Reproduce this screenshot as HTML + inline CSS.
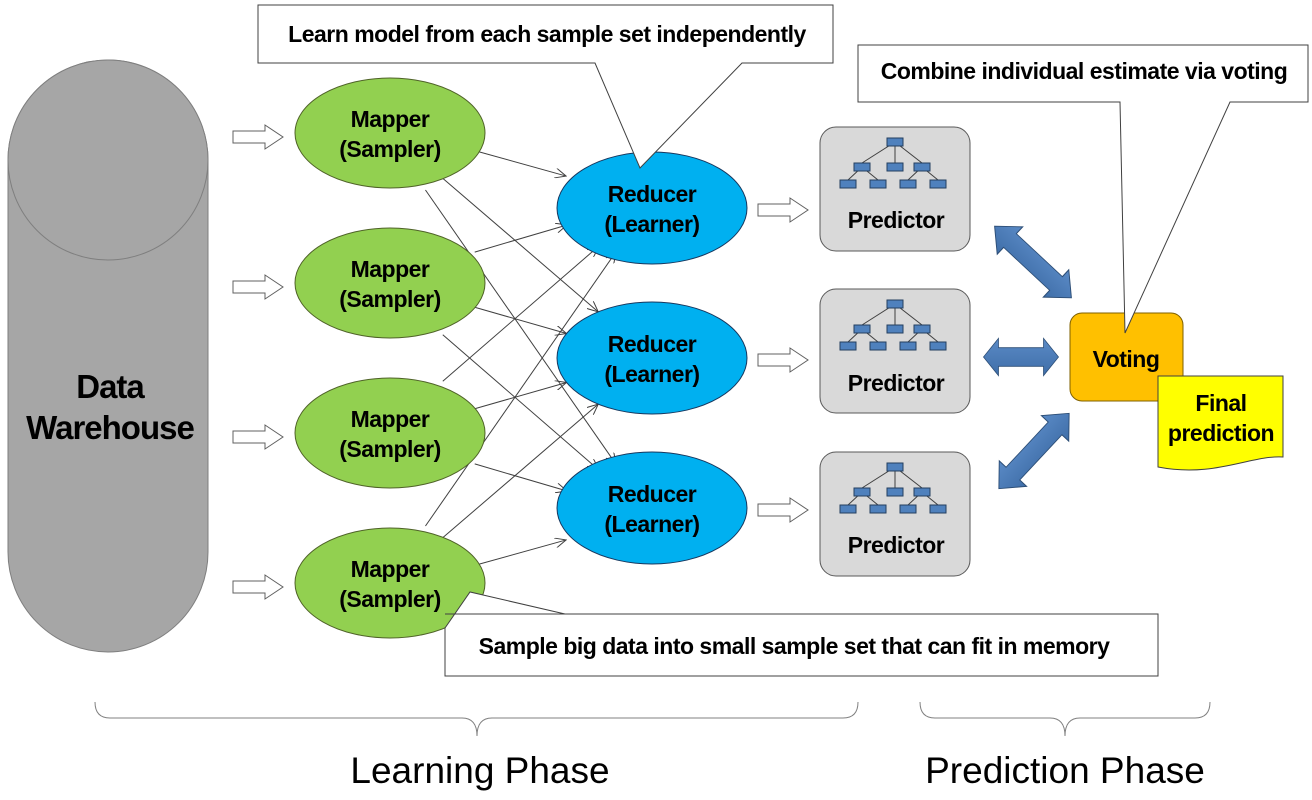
<!DOCTYPE html>
<html><head><style>body{margin:0;background:#fff}svg{display:block}text{font-family:"Liberation Sans",Arial,sans-serif}</style></head>
<body>
<svg id="s" width="1312" height="800" viewBox="0 0 1312 800" xmlns="http://www.w3.org/2000/svg">
<defs>
<marker id="ah" markerWidth="12" markerHeight="10" refX="11" refY="5" orient="auto" markerUnits="userSpaceOnUse"><path d="M0,0 L11,5 L0,10" fill="none" stroke="#404040" stroke-width="1"/></marker>
<linearGradient id="bg" x1="0" y1="0" x2="0" y2="1"><stop offset="0" stop-color="#5a8ac6"/><stop offset="1" stop-color="#3f6ea8"/></linearGradient>
<g id="tree">
<g stroke="#404040" stroke-width="1"><line x1="0" y1="4" x2="-33" y2="25"/><line x1="0" y1="4" x2="0" y2="25"/><line x1="0" y1="4" x2="27" y2="25"/>
<line x1="-33" y1="29" x2="-47" y2="42"/><line x1="-33" y1="29" x2="-17" y2="42"/><line x1="27" y1="29" x2="13" y2="42"/><line x1="27" y1="29" x2="43" y2="42"/></g>
<g fill="#4f81bd" stroke="#243f60" stroke-width="1"><rect x="-8" y="0" width="16" height="8"/><rect x="-41" y="25" width="16" height="8"/><rect x="-8" y="25" width="16" height="8"/><rect x="19" y="25" width="16" height="8"/>
<rect x="-55" y="42" width="16" height="8"/><rect x="-25" y="42" width="16" height="8"/><rect x="5" y="42" width="16" height="8"/><rect x="35" y="42" width="16" height="8"/></g>
</g>
<path id="harrow" d="M0,-6 H32 V-12 L50,0 L32,12 V6 H0 Z" fill="#fff" stroke="#606060" stroke-width="1"/>
<path id="darrow" d="M-50,0 L-30,-22 V-11 H30 V-22 L50,0 L30,22 V11 H-30 V22 Z" fill="url(#bg)" stroke="#2c4d75" stroke-width="1"/>
</defs>
<path d="M8,160 A100,100 0 0 1 208,160 V552 A100,100 0 0 1 8,552 Z" fill="#a6a6a6" stroke="#7f7f7f"/>
<ellipse cx="108" cy="160" rx="100" ry="100" fill="#a6a6a6" stroke="#7f7f7f"/>
<text x="110" y="398" font-size="33" font-weight="bold" text-anchor="middle" letter-spacing="-1">Data</text>
<text x="110" y="439" font-size="33" font-weight="bold" text-anchor="middle" letter-spacing="-1">Warehouse</text>
<g id="lines"></g>
<g id="nodes"></g>
<g fill="#d9d9d9" stroke="#595959" stroke-width="1">
<rect x="820" y="127" width="150" height="124" rx="16"/><rect x="820" y="289" width="150" height="124" rx="16"/><rect x="820" y="452" width="150" height="124" rx="16"/></g>
<use href="#tree" x="895" y="138"/><use href="#tree" x="895" y="300"/><use href="#tree" x="895" y="463"/>
<g font-size="23" font-weight="bold" text-anchor="middle" letter-spacing="-0.5"><text x="896" y="228">Predictor</text><text x="896" y="391">Predictor</text><text x="896" y="553">Predictor</text></g>
<use href="#darrow" transform="translate(1033,262) rotate(43) scale(1.05,0.85)"/>
<use href="#darrow" transform="translate(1021,357) scale(0.75,0.85)"/>
<use href="#darrow" transform="translate(1034,451) rotate(-47) scale(1.03,0.85)"/>
<rect x="1070" y="313" width="113" height="88" rx="12" fill="#ffc000" stroke="#7f6000"/>
<text x="1126" y="367" font-size="23" font-weight="bold" text-anchor="middle" letter-spacing="-0.5">Voting</text>
<path d="M1158,376 H1283 V457 C1250,455 1215,478 1158,467 Z" fill="#ffff00" stroke="#404040"/>
<text x="1221" y="411" font-size="23" font-weight="bold" text-anchor="middle" letter-spacing="-0.5">Final</text>
<text x="1221" y="441" font-size="23" font-weight="bold" text-anchor="middle" letter-spacing="-0.5">prediction</text>
<g fill="#fff" stroke="#404040" stroke-width="1">
<path d="M258,5 H833 V63 H742 L640,168 L595,63 H258 Z"/>
<path d="M858,45 H1308 V102 H1230 L1125,333 L1120,102 H858 Z"/>
<path d="M445,614 H1158 V676 H445 V628 L470,592 L565,614 Z"/>
</g>
<g font-size="23" font-weight="bold" text-anchor="middle" letter-spacing="-0.5">
<text x="547" y="42">Learn model from each sample set independently</text>
<text x="1084" y="79">Combine individual estimate via voting</text>
<text x="794" y="654">Sample big data into small sample set that can fit in memory</text></g>
<g fill="none" stroke="#808080" stroke-width="1">
<path d="M95,702 Q95,718 110,718 H462 Q477,718 477,736 Q477,718 492,718 H843 Q858,718 858,702"/>
<path d="M920,702 Q920,718 935,718 H1050 Q1065,718 1065,736 Q1065,718 1080,718 H1195 Q1210,718 1210,702"/></g>
<text x="480" y="783" font-size="37" text-anchor="middle">Learning Phase</text>
<text x="1065" y="783" font-size="37" text-anchor="middle">Prediction Phase</text>
</svg>
<script>
var NS="http://www.w3.org/2000/svg";
function el(p,t,a){var e=document.createElementNS(NS,t);for(var k in a)e.setAttribute(k,a[k]);p.appendChild(e);return e;}
var L=document.getElementById('lines'),N=document.getElementById('nodes');
var M=[133,283,433,583],R=[208,358,508];
function edge(cx,cy,rx,ry,dx,dy){var t=1/Math.sqrt(dx*dx/(rx*rx)+dy*dy/(ry*ry));return [cx+dx*t,cy+dy*t];}
M.forEach(function(my,i){R.forEach(function(ry,j){
 var oy=(j-1)*8, sy=my+(j-1)*6;
 var dx=652-390,dy=(ry+oy)-sy;
 var a=edge(390,sy,95,55,dx,dy),b=edge(652,ry+oy,95,56,-dx,-dy);
 el(L,'line',{x1:a[0],y1:a[1],x2:b[0],y2:b[1],stroke:'#404040','stroke-width':1,'marker-end':'url(#ah)'});
});});
function txt(x,y,s){var t=el(N,'text',{x:x,y:y,'font-size':23,'font-weight':'bold','text-anchor':'middle','letter-spacing':'-0.5'});t.textContent=s;}
M.forEach(function(y){
 el(N,'ellipse',{cx:390,cy:y,rx:95,ry:55,fill:'#92d050',stroke:'#4f6228'});
 txt(390,y-6,'Mapper');txt(390,y+24,'(Sampler)');
 el(N,'use',{href:'#harrow',x:233,y:y+4});
});
R.forEach(function(y){
 el(N,'ellipse',{cx:652,cy:y,rx:95,ry:56,fill:'#00b0f0',stroke:'#17375e'});
 txt(652,y-6,'Reducer');txt(652,y+24,'(Learner)');
 el(N,'use',{href:'#harrow',x:758,y:y+2});
});
</script>
</body></html>
